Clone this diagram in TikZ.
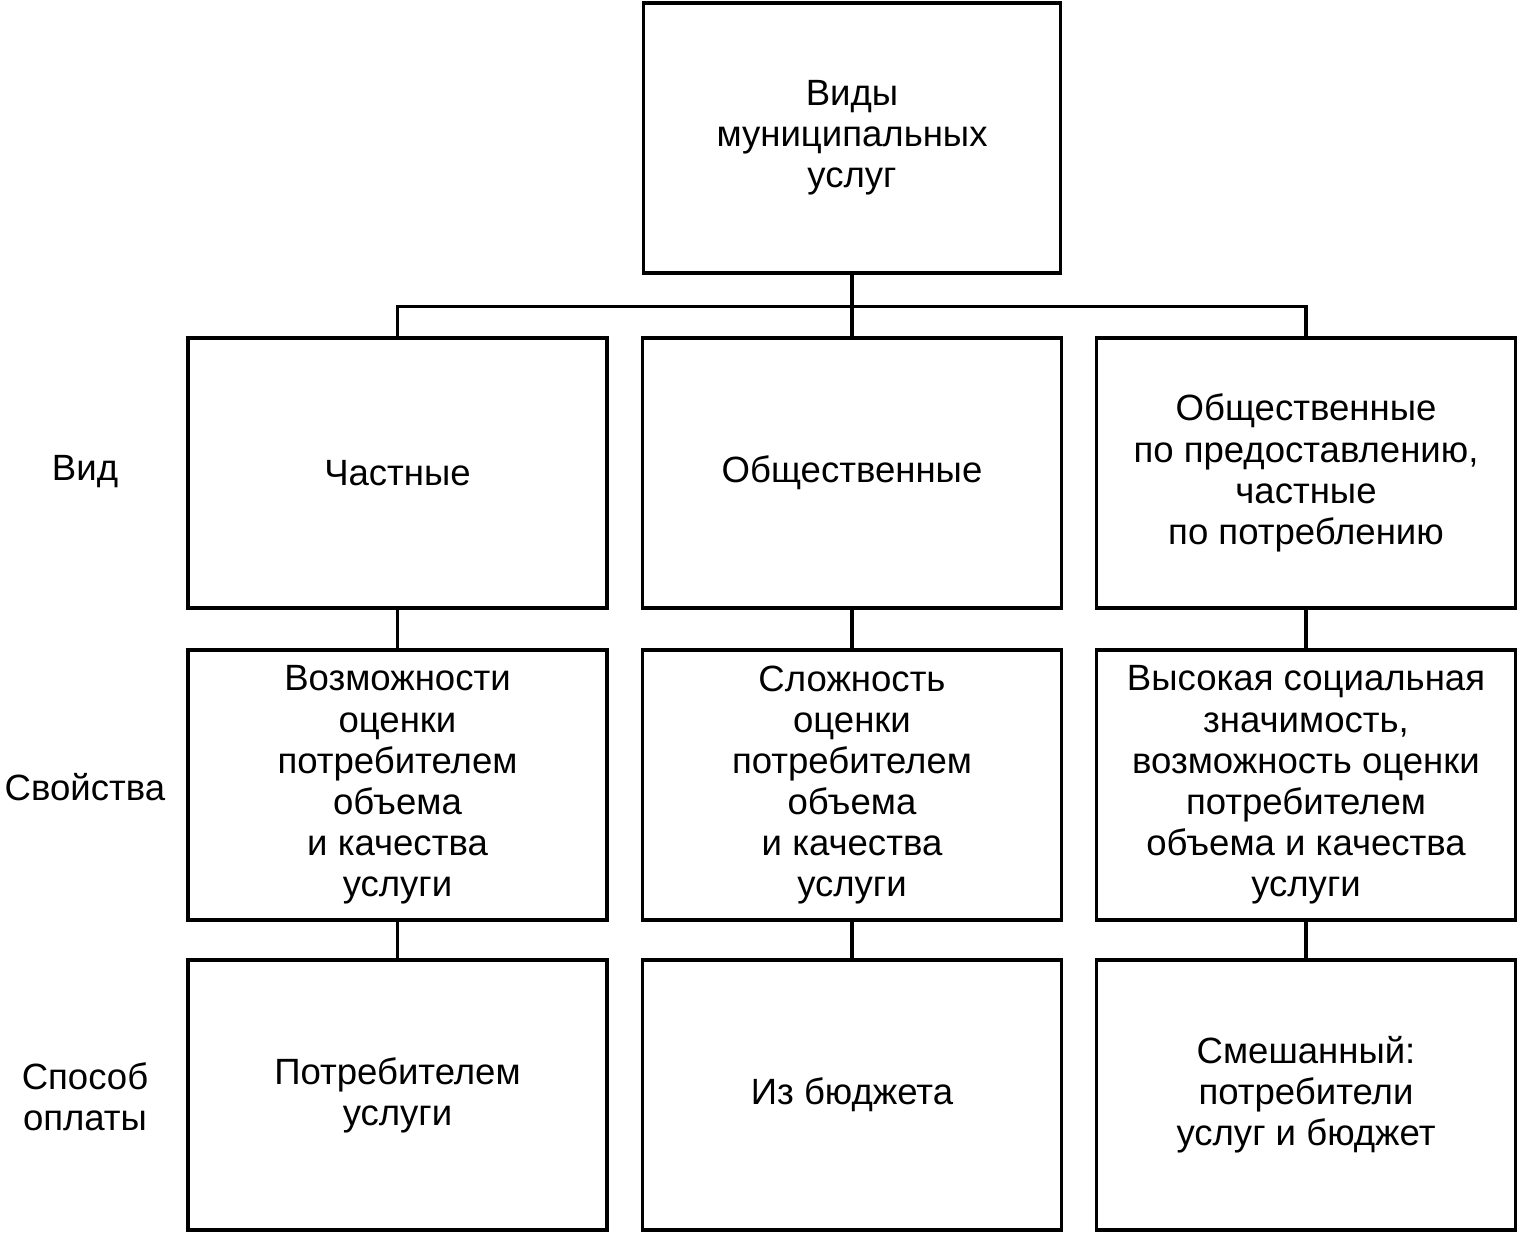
\documentclass[tikz,border=0pt]{standalone}
\usepackage{fontspec}
\setmainfont{Liberation Sans}
\tikzset{box/.style={draw,line width=0.9pt,minimum width=4.19cm,minimum height=2.7cm,align=center,font=\fontsize{10.4pt}{11.7pt}\selectfont},
         lab/.style={align=center,font=\fontsize{10.4pt}{11.7pt}\selectfont}}
\begin{document}
\begin{tikzpicture}
                \useasboundingbox(0,0)rectangle(15.18,-12.36);
                \node[box,minimum width=4.17cm](0)at(8.52,-1.38){Виды\\муниципальных\\услуг};

                \node[box](11)at(3.975,-4.73){Частные};
                \node[box](12)at(8.52,-4.73){Общественные};
                \node[box](13)at(13.06,-4.73){Общественные\\по предоставлению,\\частные\\по потреблению};

                \node[box](21)at(3.975,-7.85){Возможности\\оценки\\потребителем\\объема\\и качества\\услуги};
                \node[box](22)at(8.52,-7.85){Сложность\\оценки\\потребителем\\объема\\и качества\\услуги};
                \node[box](23)at(13.06,-7.85){Высокая социальная\\значимость,\\возможность оценки\\потребителем\\объема и качества\\услуги};

                \node[box](31)at(3.975,-10.95){Потребителем\\услуги};
                \node[box](32)at(8.52,-10.95){Из бюджета};
                \node[box](33)at(13.06,-10.95){Смешанный:\\потребители\\услуг и бюджет};

                \node[lab](v)at(0.85,-4.72){Вид};
                \node[lab](s)at(0.85,-7.87){Свойства};
                \node[lab](o)at(0.85,-10.97){Способ\\оплаты};

                \draw[line width=0.9pt](0.south)--++(0,-0.32)coordinate(j);
                \draw[line width=0.9pt](j)-|(11.north);
                \draw[line width=0.9pt](j)-|(13.north);
                \draw[line width=0.9pt](0.south)--(12.north);
                \foreach \c in {1,2,3}{
                    \draw[line width=0.9pt](1\c)--(2\c);
                    \draw[line width=0.9pt](2\c)--(3\c);
                }
            \end{tikzpicture}
\end{document}
